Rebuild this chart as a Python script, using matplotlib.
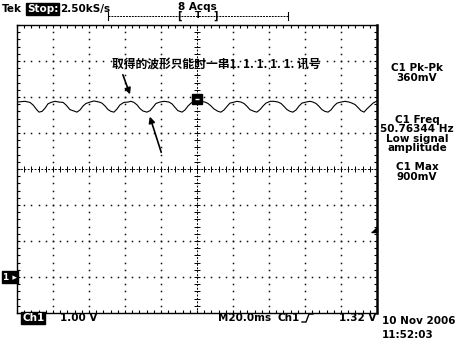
import numpy as np
import matplotlib
matplotlib.use("Agg")
import matplotlib.pyplot as plt
from matplotlib.ticker import MultipleLocator

plt.rcParams['font.family'] = ['DejaVu Sans']

# 扫描时间 (ms) 和 电压 (格, 屏幕中心为0)
time_ms = [-100.0, -95.6, -92.8, -91.1, -89.4, -87.8, -86.1, -84.4, -82.8, -81.1, -78.9, -76.7,
           -74.4, -72.8, -70.6, -68.3, -66.7, -65.0, -63.3, -61.7, -59.4, -57.2,
           -54.4, -52.8, -51.1, -49.4, -47.8, -46.1, -44.4, -42.8, -40.6, -38.3, -36.7,
           -35.0, -33.3, -31.7, -30.0, -27.8, -26.1, -24.4, -22.8, -20.6, -18.3,
           -15.6, -13.9, -12.2, -10.6, -8.3, -6.7, -5.0, -3.3, -1.7, 0.0, 2.2,
           4.4, 6.1, 7.8, 9.4, 11.7, 13.3, 15.0, 16.7, 18.3, 20.0, 22.2,
           24.4, 26.1, 27.8, 29.4, 31.7, 33.3, 35.0, 36.7, 38.3, 40.6, 42.8,
           45.0, 46.7, 48.3, 50.0, 51.7, 53.3, 55.0, 56.7, 58.3, 60.6, 62.8,
           64.4, 66.1, 67.8, 69.4, 71.1, 72.8, 74.4, 76.1, 77.8, 80.0, 82.2,
           84.4, 86.1, 87.8, 89.4, 91.1, 92.8, 94.4, 96.1, 97.8, 100.0]
volt_div = [1.86, 1.88, 1.85, 1.78, 1.67, 1.58, 1.60, 1.69, 1.81, 1.85, 1.88, 1.86,
            1.85, 1.78, 1.65, 1.61, 1.58, 1.64, 1.75, 1.82, 1.86, 1.89,
            1.86, 1.83, 1.75, 1.65, 1.60, 1.58, 1.67, 1.78, 1.85, 1.86, 1.88,
            1.85, 1.78, 1.68, 1.61, 1.58, 1.62, 1.72, 1.82, 1.86, 1.88,
            1.86, 1.81, 1.71, 1.62, 1.58, 1.64, 1.75, 1.83, 1.89, 1.92, 1.88,
            1.86, 1.82, 1.75, 1.67, 1.60, 1.58, 1.64, 1.74, 1.83, 1.85, 1.88,
            1.86, 1.82, 1.74, 1.65, 1.60, 1.58, 1.65, 1.75, 1.83, 1.88, 1.88,
            1.86, 1.82, 1.74, 1.65, 1.60, 1.58, 1.64, 1.75, 1.83, 1.86, 1.88,
            1.86, 1.82, 1.74, 1.65, 1.60, 1.58, 1.64, 1.75, 1.83, 1.86, 1.88,
            1.86, 1.83, 1.79, 1.71, 1.62, 1.58, 1.67, 1.75, 1.83, 1.89]

ground_div = -3.0      # 通道1 地电平位置
trig_level_v = 1.32    # 触发电平
trig_time = 0.0

measure_groups = ["C1 Pk-Pk\n360mV", "C1 Freq\n50.76344 Hz\nLow signal\namplitude", "C1 Max\n900mV"]
note_text = "取得的波形只能时一串1. 1. 1. 1. 1. 讯号"

W, H = 461, 346
fig = plt.figure(figsize=(W / 100, H / 100), dpi=100)
fig.patch.set_facecolor('white')

def P(x, y):
    # 像素 -> figure 坐标
    return x / W, 1 - y / H

ax = fig.add_axes([17 / W, 1 - 313 / H, 360 / W, 288 / H])
ax.set_xlim(-100, 100)
ax.set_ylim(-4, 4)

# 刻度线 (四边向内)
ax.xaxis.set_major_locator(MultipleLocator(20))
ax.xaxis.set_minor_locator(MultipleLocator(4))
ax.yaxis.set_major_locator(MultipleLocator(1))
ax.yaxis.set_minor_locator(MultipleLocator(0.2))
ax.tick_params(which='both', direction='in', length=2.5, width=0.8, color='k',
               top=True, right=True, labelbottom=False, labelleft=False)
for s in ax.spines.values():
    s.set_color('k')
    s.set_linewidth(1.0)
ax.spines['right'].set_linewidth(1.8)

# 点状网格
minor_t = np.arange(-100, 100.1, 4)
minor_v = np.arange(-4, 4.01, 0.2)
for gx in range(-80, 81, 20):
    if gx == 0:
        continue
    ax.plot([gx] * len(minor_v), minor_v, 's', ms=1.1, color='#111', mew=0)
for gy in range(-3, 4):
    if gy == 0:
        continue
    ax.plot(minor_t, [gy] * len(minor_t), 's', ms=1.1, color='#111', mew=0)

# 中心十字线
ax.axhline(0, color='k', lw=0.7, ls=(0, (2, 1.5)))
ax.axvline(0, color='k', lw=0.7, ls=(0, (2, 1.5)))
ax.plot(minor_t, [0] * len(minor_t), '|', ms=4, mew=0.7, color='k')
ax.plot([0] * len(minor_v), minor_v, '_', ms=4, mew=0.7, color='k')

# 波形
ax.plot(time_ms, volt_div, color='k', lw=0.8)

# 触发位置标记
ax.plot([trig_time], [1.95], 's', ms=6.5, color='k')
ax.plot([trig_time], [1.95], '_', ms=3.5, mew=1.0, color='white')

# 触发电平标记
ax.plot([98.5], [ground_div + trig_level_v], marker=[(-1, -1), (1, -1), (1, 1)],
        ms=4, color='k', clip_on=False)

# 注释
ax.text(-47.2, 2.92, note_text, fontsize=8.5, fontweight='bold', va='center', ha='left',
        family=['Noto Sans CJK SC', 'DejaVu Sans'])
ax.annotate('', xy=(-36.7, 2.0), xytext=(-41.7, 2.69),
            arrowprops=dict(arrowstyle='-|>', color='k', lw=1.2, mutation_scale=9))
ax.annotate('', xy=(-26.7, 1.53), xytext=(-19.4, 0.39),
            arrowprops=dict(arrowstyle='-|>', color='k', lw=1.2, mutation_scale=9))

# 地电平标记
fig.text(*P(3, 277), "1 ▸", fontsize=6.5, fontweight='bold', color='white', va='center', ha='left',
         bbox=dict(boxstyle='square,pad=0.15', fc='k', ec='k'))

fs = 7.5
# 顶部状态栏
fig.text(*P(2, 9), "Tek", fontsize=fs, fontweight='bold', va='center', ha='left')
fig.text(*P(27, 9), "Stop:", fontsize=fs, fontweight='bold', va='center', ha='left', color='white',
         bbox=dict(boxstyle='square,pad=0.1', fc='k', ec='k'))
fig.text(*P(60, 9), "2.50kS/s", fontsize=fs, fontweight='bold', va='center', ha='left')
fig.text(*P(197, 7), "8 Acqs", fontsize=fs, fontweight='bold', va='center', ha='center')

# 记录长度指示
lx0, ly = P(108, 16)
lx1, _ = P(288, 16)
fig.add_artist(plt.Line2D([lx0, lx1], [ly, ly], color='k', lw=0.7, ls=(0, (2, 1))))
for xx in (108, 288):
    a, b0 = P(xx, 12)
    _, b1 = P(xx, 20)
    fig.add_artist(plt.Line2D([a, a], [b0, b1], color='k', lw=0.8))
fig.text(*P(179, 16), "[", fontsize=7, fontweight='bold', va='center', ha='center')
fig.text(*P(198, 16), "T", fontsize=6.5, fontweight='bold', va='center', ha='center')
fig.text(*P(216, 16), "]", fontsize=7, fontweight='bold', va='center', ha='center')

# 右侧测量值
for txt, yy in zip(measure_groups, [73, 134, 172]):
    fig.text(*P(417, yy), txt, fontsize=fs, fontweight='bold', va='center', ha='center',
             linespacing=0.9, multialignment='center')

# 底部状态栏
fig.text(*P(22, 318), "Ch1", fontsize=fs, fontweight='bold', va='center', ha='left', color='white',
         bbox=dict(boxstyle='square,pad=0.1', fc='k', ec='k'))
fig.text(*P(60, 318), "1.00 V", fontsize=fs, fontweight='bold', va='center', ha='left')
fig.text(*P(218, 318), "M20.0ms", fontsize=fs, fontweight='bold', va='center', ha='left')
fig.text(*P(278, 318), "Ch1", fontsize=fs, fontweight='bold', va='center', ha='left')
pts = [(302, 322), (306, 322), (309, 314), (313, 314)]
fig.add_artist(plt.Line2D([P(x, y)[0] for x, y in pts], [P(x, y)[1] for x, y in pts], color='k', lw=1.0))
fig.text(*P(376, 318), "1.32 V", fontsize=fs, fontweight='bold', va='center', ha='right')
fig.text(*P(382, 321), "10 Nov 2006", fontsize=fs, fontweight='bold', va='center', ha='left')
fig.text(*P(382, 335), "11:52:03", fontsize=fs, fontweight='bold', va='center', ha='left')

fig.savefig("out.png", dpi=100, facecolor='white')
